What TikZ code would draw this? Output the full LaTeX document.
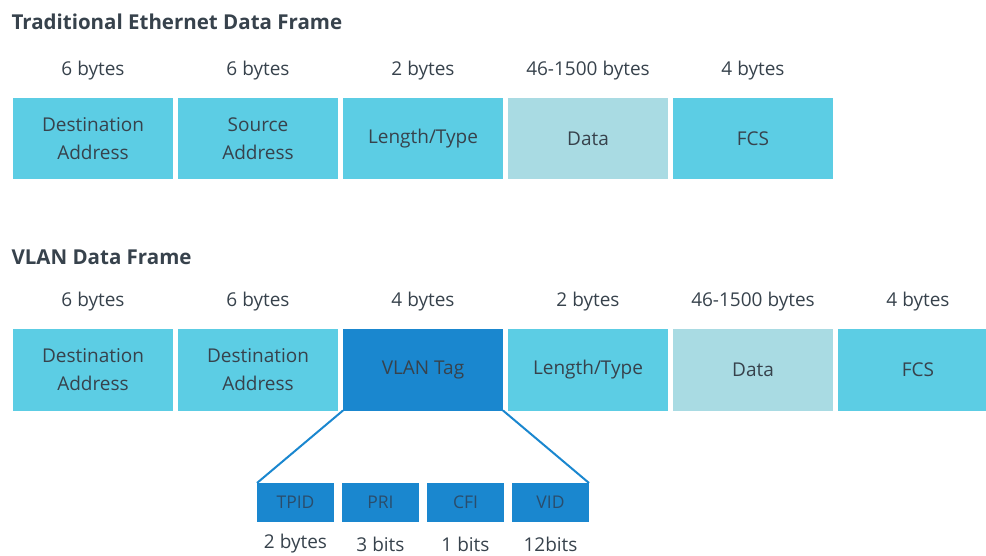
\documentclass[tikz,border=0pt]{standalone}
\usepackage{fontspec}
\setmainfont{Open Sans}
\usepackage{xcolor}
\usepackage{tikz}
\usetikzlibrary{positioning}

\definecolor{cyanbox}{HTML}{5CCDE4}
\definecolor{databox}{HTML}{A9DBE3}
\definecolor{tagbox}{HTML}{1A87CF}
\definecolor{txtgray}{HTML}{37424C}
\definecolor{subtxt}{HTML}{2A4D6C}

\begin{document}
\begin{tikzpicture}[x=1pt, y=1pt,
    field/.style={fill=cyanbox, minimum width=160pt, minimum height=81pt, inner sep=0pt,
        outer sep=0pt, align=center, text=txtgray, font=\fontsize{19}{28}\selectfont},
    datafield/.style={field, fill=databox},
    tagfield/.style={field, fill=tagbox},
    subfield/.style={fill=tagbox, minimum width=77pt, minimum height=39pt, inner sep=0pt,
        outer sep=0pt, text=subtxt, font=\fontsize{17.5}{20}\selectfont},
    size/.style={text=txtgray, font=\fontsize{19}{22}\selectfont},
    heading/.style={anchor=west, text=txtgray, font=\bfseries\fontsize{20.5}{24}\selectfont}]
    \useasboundingbox (0,0) rectangle (986,555);

    % 1. Khung Ethernet truyền thống
    \node[heading] (title1) at (8,533) {Traditional Ethernet Data Frame};
    \coordinate (row1) at (0,484);
    \node[field] (dst1) at (93,416.5) {Destination\\Address};
    \node[field, right=5pt of dst1] (src1) {Source\\Address};
    \node[field, right=5pt of src1] (len1) {Length/Type};
    \node[datafield, right=5pt of len1] (data1) {Data};
    \node[field, right=5pt of data1] (fcs1) {FCS};
    \node[size] (sdst1) at (dst1 |- row1) {6 bytes};
    \node[size] (ssrc1) at (src1 |- row1) {6 bytes};
    \node[size] (slen1) at (len1 |- row1) {2 bytes};
    \node[size] (sdata1) at (data1 |- row1) {46-1500 bytes};
    \node[size] (sfcs1) at (fcs1 |- row1) {4 bytes};

    % 2. Khung VLAN
    \node[heading] (title2) at (8,298) {VLAN Data Frame};
    \coordinate (row2) at (0,253);
    \node[field] (dst2) at (93,185) {Destination\\Address};
    \node[field, right=5pt of dst2] (src2) {Destination\\Address};
    \node[tagfield, right=5pt of src2] (tag) {VLAN Tag};
    \node[field, right=5pt of tag] (len2) {Length/Type};
    \node[datafield, right=5pt of len2] (data2) {Data};
    \node[field, right=5pt of data2] (fcs2) {FCS};
    \node[size] (sdst2) at (dst2 |- row2) {6 bytes};
    \node[size] (ssrc2) at (src2 |- row2) {6 bytes};
    \node[size] (stag) at (tag |- row2) {4 bytes};
    \node[size] (slen2) at (len2 |- row2) {2 bytes};
    \node[size] (sdata2) at (data2 |- row2) {46-1500 bytes};
    \node[size] (sfcs2) at (fcs2 |- row2) {4 bytes};

    % 3. Các trường của VLAN Tag
    \coordinate (row3) at (0,11);
    \node[subfield] (tpid) at (295.5,52.5) {TPID};
    \node[subfield, right=8pt of tpid] (pri) {PRI};
    \node[subfield, right=8pt of pri] (cfi) {CFI};
    \node[subfield, right=8pt of cfi] (vid) {VID};
    \node[size, inner sep=1pt] (stpid) at (tpid |- row3) {2 bytes};
    \node[size, inner sep=1pt] (spri) at (pri |- row3) {3 bits};
    \node[size, inner sep=1pt] (scfi) at (cfi |- row3) {1 bits};
    \node[size, inner sep=1pt] (svid) at (vid |- row3) {12bits};

    % 4. Đường nối
    \draw[tagbox, line width=2pt] (tag.south west) -- (tpid.north west);
    \draw[tagbox, line width=2pt] (tag.south east) -- (vid.north east);
\end{tikzpicture}
\end{document}
